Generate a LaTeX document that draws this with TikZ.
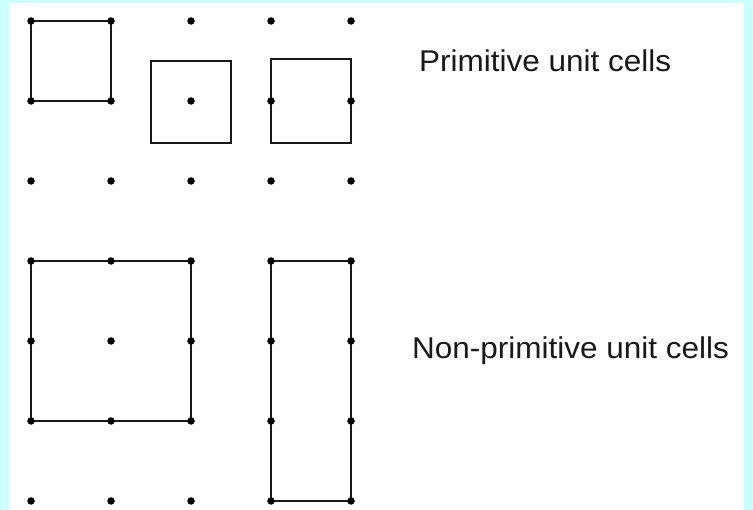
\documentclass[tikz,border=0pt]{standalone}
\usepackage{fontspec}
\setmainfont{Liberation Sans}
\definecolor{pagecyan}{HTML}{CCFFFF}
\tikzset{
  latdot/.style={circle,fill=black,inner sep=0pt,minimum size=7.5pt},
  cell/.style={draw=black!90,line width=2pt},
  celltext/.style={anchor=base west,inner sep=0pt,font=\fontsize{30}{34}\selectfont,xscale=1.05,text=black!90}
}
\begin{document}
\begin{tikzpicture}[x=1pt,y=-1pt]
    \fill [pagecyan] (0,0) rectangle (753,510);
    \fill [white] (9,3) rectangle (744,510);
    \useasboundingbox (0,0) rectangle (753,510);
    % cells
    \draw [cell] (31,21) rectangle (111,101);
    \draw [cell] (151,61) rectangle (231,143);
    \draw [cell] (271,59) rectangle (351,143);
    \draw [cell] (31,261) rectangle (191,421);
    \draw [cell] (271,261) rectangle (351,501);
    % lattice points
    \foreach \i in {0,...,4}
      \foreach \j in {0,...,6}
        \node [latdot] (p\i\j) at (31+80*\i,21+80*\j) {};
    \node [celltext] (prim) at (419,72) {Primitive unit cells};
    \node [celltext] (nonprim) at (412,359) {Non-primitive unit cells};
  \end{tikzpicture}
\end{document}
